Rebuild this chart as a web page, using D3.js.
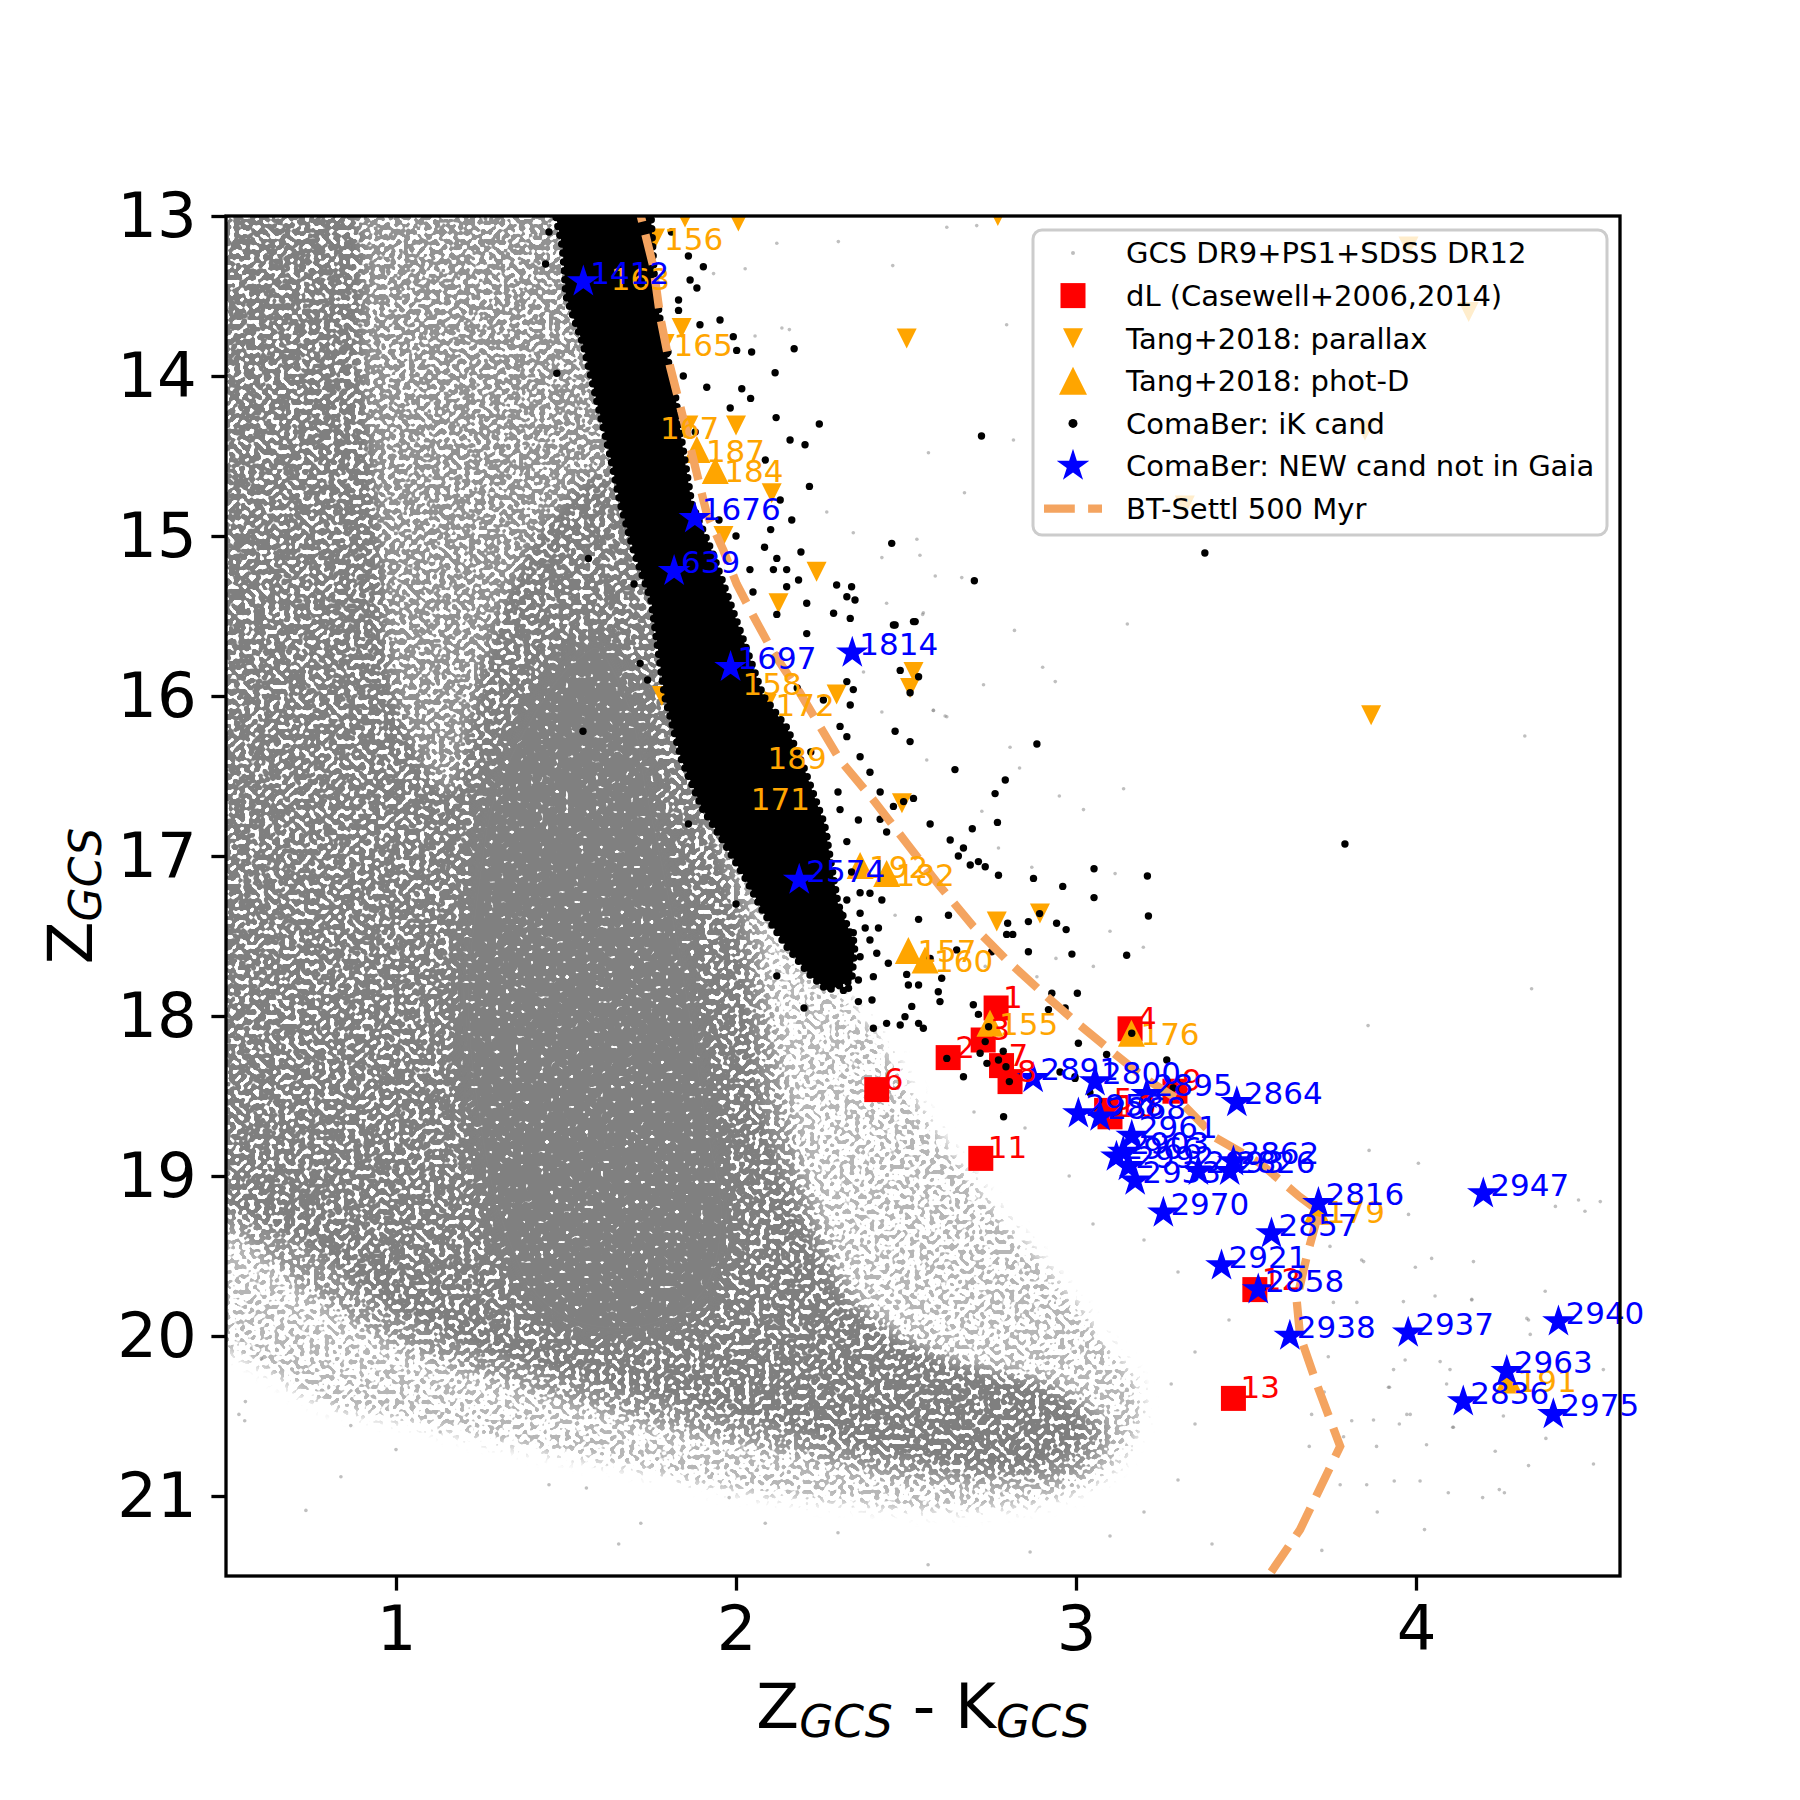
<!DOCTYPE html>
<html>
<head>
<meta charset="utf-8">
<script src="https://cdn.jsdelivr.net/npm/d3@7"></script>
<style>
  body { margin: 0; background: #fff; }
  text { font-family: "DejaVu Sans", sans-serif; }
</style>
</head>
<body>
<div class="chart"></div>
<script>

// ---- DATA (colour Z-K, magnitude Z) ----

// GCS field: density contours (light envelope -> dense core)
var fieldLight = [[0.4,12.9],[1.0,12.9],[1.6,12.9],[1.65,14.0],[1.75,15.0],[1.9,16.0],[1.97,16.5],[2.07,17.0],[2.17,17.4],[2.3,17.8],[2.45,18.2],[2.55,18.57],[2.73,19.1],[2.92,19.57],[3.08,20.0],[3.2,20.4],[3.13,20.8],[2.94,21.03],[2.6,21.1],[2.3,21.05],[2.0,20.98],[1.61,20.8],[1.35,20.7],[1.04,20.55],[0.8,20.45],[0.6,20.2],[0.4,19.9],[0.4,16.5]];
var fieldMid = [[0.4,12.9],[1.0,12.9],[1.53,12.9],[1.55,13.5],[1.62,14.15],[1.69,14.775],[1.78,15.4],[1.83,16.0],[1.9,16.5],[1.98,16.9],[2.05,17.3],[2.1,17.9],[2.16,18.62],[2.26,19.34],[2.38,19.82],[2.62,20.12],[2.97,20.33],[3.1,20.6],[3.0,20.87],[2.7,20.92],[2.45,20.87],[2.17,20.74],[1.70,20.52],[1.33,20.3],[1.0,20.05],[0.76,19.75],[0.55,19.4],[0.4,19.2],[0.4,15.8]];
var fieldDense = [[0.4,12.9],[0.85,12.9],[0.9,14.0],[0.95,15.0],[1.0,16.0],[1.15,16.6],[1.3,15.5],[1.45,14.9],[1.62,14.6],[1.72,15.2],[1.8,16.0],[1.88,16.6],[1.97,17.1],[2.03,17.7],[2.08,18.6],[2.2,19.3],[2.33,19.8],[2.6,20.15],[2.95,20.38],[3.03,20.6],[2.9,20.8],[2.5,20.76],[2.1,20.55],[1.7,20.35],[1.3,20.12],[1.0,19.85],[0.75,19.45],[0.4,18.95],[0.4,15.8]];
var fieldCore = [[1.6,15.6],[1.72,16.0],[1.78,16.6],[1.84,17.2],[1.9,17.9],[1.95,18.6],[2.0,19.3],[1.93,19.8],[1.75,20.02],[1.52,20.0],[1.38,19.8],[1.27,19.3],[1.2,18.6],[1.17,17.9],[1.2,17.2],[1.25,16.6],[1.36,16.1],[1.48,15.75]];

// GCS field: isolated points outside the cloud
var fieldSparse = [
  [2.12,13.17],[2.301,13.16],[2.62,13.07],[2.708,13.06],[2.461,13.31],[2.027,13.33],[1.934,13.36],[2.135,13.70],[2.157,13.71],[2.796,13.68],[2.056,13.75],[2.816,14.40],[2.566,14.48],[2.672,14.73],[2.267,14.85],[2.345,14.98],[2.532,15.02],[2.429,15.135],[2.541,15.12],[2.586,15.25],[2.664,15.26],[2.443,15.42],[2.551,15.48],[2.819,15.59],[2.728,15.93],[2.58,16.09],[2.429,16.10],[2.62,16.13],[2.375,15.85],
  [2.549,15.49],[3.151,15.55],[2.902,15.82],[2.939,15.91],[2.615,16.125],[2.581,16.09],[2.806,16.32],[3.14,16.58],[3.022,16.71],[2.951,16.625],[2.834,16.45],[2.561,16.40],[2.723,16.72],[2.772,16.95],[3.115,17.11],[2.87,17.07],[3.10,17.47],[3.051,17.69],[2.941,17.64],[3.198,17.57],[2.814,17.82],[2.885,17.755],[2.468,17.37],[2.733,17.69],
  [3.859,18.06],[3.862,18.84],[3.84,19.525],[4.32,16.25],[4.34,17.83],[4.41,19.19],[4.26,20.98],
  [4.007,18.92],[4.478,19.15],[4.542,19.16],[4.497,19.22],[3.978,19.24],[4.046,19.515],[4.169,19.535],[4.056,19.75],[4.164,19.77],[3.846,19.535],[3.998,19.57],[3.826,19.79],[4.38,19.72],[4.331,19.90],[4.336,19.99],[3.934,20.21],[3.919,20.32],[3.973,20.49],[3.875,20.525],[4.11,20.57],[3.787,20.63],[3.747,19.65],[3.747,19.44],
  [3.757,19.79],[3.963,19.785],[4.164,19.775],[4.326,19.89],[3.742,20.13],[3.968,20.15],[4.071,20.16],[4.1,20.21],[4.09,20.30],[3.922,20.32],[3.73,20.35],[4.257,20.50],[4.551,20.21],[3.983,20.49],[3.951,20.55],[4.108,20.57],[3.811,20.53],[3.693,20.49],[3.686,20.69],[3.884,20.69],[4.031,20.68],[4.233,20.72],[4.382,20.64],[4.331,20.81],[4.522,20.80],[3.777,20.93],[3.855,20.93],[3.936,20.906],[4.012,20.906],[4.095,20.98],[4.196,21.01],[4.245,20.96],[3.886,21.10],[4.025,21.21],[3.723,21.34],
  [0.735,21.09],[0.838,20.88],[1.0,20.71],[1.13,20.6],[1.45,20.93],[1.56,20.95],[1.655,21.3],[1.72,21.17],[1.98,21.01],[2.086,21.17],[2.30,21.23],[2.565,21.43],[2.865,21.35],[0.867,20.56],[0.557,20.41],[0.538,20.49],[0.604,20.14],[0.555,20.53],
  [3.28,20.3],[3.35,20.55],[3.3,20.9],[3.2,21.1],[3.4,21.3],[3.1,21.25],[3.45,19.9],[3.3,19.6],[3.2,19.4],[3.05,19.3],[3.35,20.1],[2.98,19.0],[2.85,18.7],[2.7,18.6]
];

// dL (Casewell+2006,2014)
var dlColor = [2.765, 2.624, 2.727, 3.159, 3.09, 2.414, 2.781, 2.806, 3.291, 3.10, 2.72, 3.526, 3.463];
var dlMag   = [17.95, 18.26, 18.15, 18.08, 18.59, 18.46, 18.31, 18.41, 18.47, 18.63, 18.89, 19.71, 20.39];
var dlName  = ['1','2','3','4','5','6','7','8','9','10','11','12','13'];

// Tang+2018: 'v' = parallax, '^' = phot-D
var tangColor = [1.762,1.605,1.85,2.007,2.77,2.502,1.84,1.79,1.75,1.86,2.0,1.885,1.939,2.105,1.963,2.237,2.125,1.782,2.522,2.512,1.993,2.09,2.296,2.066,2.017,2.488,2.365,2.443,2.767,2.894,2.507,2.556,2.747,3.163,3.708,4.272,3.868,3.978,4.155,3.85,3.32,1.60,1.69,1.718,1.777];
var tangMag   = [13.14,13.39,13.01,13.035,13.0,13.765,13.70,13.80,14.317,14.31,14.31,14.46,14.59,14.733,15.00,15.223,15.42,16.0,15.85,15.95,15.92,16.05,15.99,16.38,16.64,16.67,17.06,17.11,17.41,17.36,17.59,17.65,18.045,18.108,19.22,20.275,16.12,13.19,13.6,14.34,14.81,13.17,13.09,13.23,13.9];
var tangType  = ['v','v','v','v','v','v','v','v','v','v','v','^','^','v','v','v','v','v','v','v','^','v','v','^','^','v','^','^','v','v','^','^','^','^','^','^','v','v','v','v','v','v','v','v','v'];
var tangName  = ['156','163','','','','','','165','167','','','187','184','','','','','','','','158','172','','189','171','','192','182','','','157','160','155','176','179','191','','','','','','','','',''];

// ComaBer iK candidates: outline of the dense sequence + individual points
var ikBand = [[1.46,12.9],[1.49,13.2],[1.50,13.5],[1.55,13.8],[1.59,14.15],[1.63,14.5],[1.66,14.8],[1.70,15.1],[1.75,15.4],[1.77,15.7],[1.79,16.0],[1.84,16.4],[1.90,16.7],[1.96,16.9],[2.03,17.15],[2.08,17.35],[2.15,17.57],[2.22,17.75],[2.27,17.84],
  [2.34,17.78],[2.35,17.55],[2.30,17.3],[2.28,17.05],[2.26,16.8],[2.2,16.45],[2.15,16.2],[2.08,16.0],[2.03,15.7],[1.98,15.4],[1.93,15.1],[1.87,14.8],[1.84,14.4],[1.82,14.1],[1.78,13.7],[1.76,13.4],[1.75,13.0],[1.75,12.9]];
var ikPoints = [
  [1.904,13.317],[1.865,13.40],[1.885,13.45],[1.831,13.525],[1.831,13.59],[1.953,13.65],[1.894,13.68],[1.992,13.754],[2.002,13.84],[2.046,13.85],[2.171,13.83],[2.115,13.98],[1.845,14.00],[1.914,14.07],[2.017,14.08],[2.043,14.14],[1.983,14.20],[2.118,14.26],[2.245,14.30],[2.159,14.40],[2.203,14.43],[2.722,14.375],[2.216,14.69],[2.086,14.525],[2.130,14.775],[2.164,14.90],[2.102,14.96],[2.458,15.046],[2.701,15.28],[2.191,15.10],[2.120,15.14],[2.084,15.07],[2.041,15.21],[2.110,15.21],[2.149,15.21],[2.184,15.275],[2.149,15.317],[2.296,15.306],[2.340,15.317],[2.326,15.38],[2.350,15.40],[2.208,15.42],[2.287,15.483],[2.336,15.515],[2.468,15.556],[2.527,15.535],[2.120,15.49],[2.208,15.61],[2.483,15.84],[2.537,15.88],[2.326,15.91],[2.345,15.96],[2.257,16.025],[2.336,16.056],[1.566,15.14],[1.473,13.983],[1.718,15.796],[3.379,15.106],[3.791,16.925],[1.55,16.22],
  [2.463,15.556],[2.522,15.535],[2.512,15.98],[2.306,16.19],[2.326,16.254],[2.468,16.22],[2.512,16.285],[2.885,16.30],[2.644,16.46],[2.365,16.38],[2.394,16.477],[2.792,16.525],[2.762,16.61],[2.424,16.60],[2.522,16.64],[2.493,16.66],[2.463,16.69],[2.306,16.71],[2.360,16.775],[2.424,16.77],[2.443,16.85],[2.571,16.80],[2.769,16.79],[2.695,16.83],[2.630,16.90],[2.669,16.95],[2.654,17.00],[2.689,17.056],[2.713,17.035],[2.733,17.067],[2.772,17.12],[2.875,17.14],[2.961,17.19],[3.053,17.08],[3.210,17.125],[3.053,17.26],[3.213,17.375],[2.860,17.41],[2.943,17.42],[2.971,17.46],[2.893,17.36],[2.799,17.42],[2.796,17.49],[2.814,17.49],[2.625,17.37],[2.537,17.396],[2.429,17.275],[2.394,17.233],[2.365,17.358],[2.419,17.45],[2.394,17.525],[2.414,17.608],[2.365,17.63],[2.306,17.69],[2.360,17.775],[2.404,17.754],[2.448,17.67],[2.502,17.74],[2.507,17.806],[2.537,17.806],[2.605,17.764],[2.571,17.64],[2.649,17.587],[2.752,17.598],[2.860,17.598],[2.988,17.613],[3.149,17.62],[3.004,17.858],[2.919,17.96],[2.968,17.95],[2.595,17.848],[2.600,17.91],[2.517,17.94],[2.497,18.004],[2.537,18.046],[2.551,18.077],[2.483,18.056],[2.443,18.046],[2.404,18.077],[2.360,17.91],[2.331,17.827],[2.698,17.93],[2.713,17.99],[2.743,18.067],[2.733,18.16],[2.718,18.233],[2.738,18.296],[2.772,18.275],[2.794,18.317],[2.620,18.265],[2.669,18.38],[2.804,18.41],[3.007,18.17],[2.929,17.858],[2.997,18.38],
  [2.786,18.22],[2.953,18.35],[2.997,18.39],[3.041,18.48],[3.09,18.24],[3.267,18.275],[3.286,18.45],[2.787,18.63],[3.164,18.108],
  [2.252,16.827],[2.267,16.88],[2.326,16.91],[2.306,17.358],[2.282,17.48],[2.345,17.48],[2.228,17.72],[2.267,17.75],[2.316,17.84],[2.365,17.23],[2.326,17.275],
  [1.81,13.1],[1.86,13.25],[1.80,13.85],[1.88,14.35],[1.95,14.9],[2.0,15.0],[2.05,15.35],[2.12,15.75],[2.18,15.95],[2.22,16.35],[2.3,16.6],[2.34,17.1],[2.38,17.45],[2.4,17.9],[1.45,13.1],[1.44,13.3],[1.70,15.3],[1.74,15.9],[1.86,16.8],[2.0,17.3],[2.12,17.75],[2.2,17.95]
];

// ComaBer: new candidates not in Gaia
var newColor = [1.551,1.879,1.818,1.984,2.342,2.186,2.874,3.056,3.208,3.473,3.007,3.071,3.164,3.119,3.139,3.154,3.174,3.36,3.452,3.463,3.257,3.713,3.575,3.428,3.536,3.629,3.977,4.198,4.419,4.267,4.139,4.404];
var newMag   = [13.41,14.89,15.22,15.82,15.73,17.15,18.39,18.41,18.49,18.54,18.61,18.63,18.75,18.88,18.85,18.94,19.03,18.97,18.97,18.91,19.23,19.17,19.36,19.56,19.71,20.00,19.98,19.11,19.91,20.22,20.41,20.49];
var newName  = ['1412','1676','639','1697','1814','2574','2891','2800','2895','2864','2958','2868','2961','2966','2903','2992','2933','2993','2826','2862','2970','2816','2857','2921','2858','2938','2937','2947','2940','2963','2836','2975'];

// BT-Settl 500 Myr isochrone
var settlColor = [1.70,1.72,1.757,1.777,1.806,1.836,1.875,1.914,1.963,2.002,2.051,2.11,2.188,2.306,2.404,2.502,2.60,2.698,2.796,2.894,2.993,3.11,3.21,3.30,3.41,3.541,3.658,3.715,3.679,3.649,3.659,3.708,3.777,3.659,3.55];
var settlMag   = [12.85,13.0,13.317,13.63,13.94,14.19,14.525,14.86,15.09,15.3,15.5,15.73,15.98,16.40,16.65,16.92,17.19,17.44,17.65,17.84,18.025,18.23,18.40,18.52,18.76,18.92,19.13,19.22,19.50,19.775,20.0,20.30,20.69,21.21,21.55];

var xTicks = [1, 2, 3, 4];
var yTicks = [13, 14, 15, 16, 17, 18, 19, 20, 21];
var legendLabels = ['GCS DR9+PS1+SDSS DR12', 'dL (Casewell+2006,2014)', 'Tang+2018: parallax', 'Tang+2018: phot-D', 'ComaBer: iK cand', 'ComaBer: NEW cand not in Gaia', 'BT-Settl 500 Myr'];

// ---- LAYOUT ----
var width = 1800, height = 1800;
var plotL = 226, plotR = 1620, plotT = 216, plotB = 1576;

var svg = d3.select('.chart')
  .append('svg')
  .attr('width', width)
  .attr('height', height);

var xScale = d3.scaleLinear().domain([0.5, 4.6]).range([plotL, plotR]);
var yScale = d3.scaleLinear().domain([13, 21.5]).range([plotT, plotB]);

var defs = svg.append('defs');
defs.append('clipPath').attr('id', 'plotClip')
  .append('rect')
  .attr('x', plotL).attr('y', plotT)
  .attr('width', plotR - plotL).attr('height', plotB - plotT);

// dotted rendering of the field density: density (alpha) + noise, thresholded,
// so higher density -> more pixels covered, like an overplotted scatter
var dots = defs.append('filter').attr('id', 'dots')
  .attr('filterUnits', 'userSpaceOnUse')
  .attr('x', plotL).attr('y', plotT).attr('width', plotR - plotL).attr('height', plotB - plotT)
  .attr('color-interpolation-filters', 'sRGB');
dots.append('feGaussianBlur').attr('in', 'SourceGraphic').attr('stdDeviation', 7).attr('result', 'blur');
dots.append('feTurbulence').attr('type', 'fractalNoise').attr('baseFrequency', 0.2)
  .attr('numOctaves', 1).attr('seed', 11).attr('result', 'noise');
dots.append('feColorMatrix').attr('in', 'noise').attr('type', 'matrix')
  .attr('values', '0 0 0 0 0  0 0 0 0 0  0 0 0 0 0  1 0 0 0 0').attr('result', 'nA');
dots.append('feColorMatrix').attr('in', 'blur').attr('type', 'matrix')
  .attr('values', '0 0 0 0 0  0 0 0 0 0  0 0 0 0 0  0 0 0 1 0').attr('result', 'bA');
dots.append('feComposite').attr('in', 'bA').attr('in2', 'nA').attr('operator', 'arithmetic')
  .attr('k1', 0).attr('k2', 0.4).attr('k3', 1).attr('k4', -0.163).attr('result', 'sum');
var thr = dots.append('feComponentTransfer').attr('in', 'sum').attr('result', 'mask');
thr.append('feFuncA').attr('type', 'linear').attr('slope', 20).attr('intercept', -10);
var dk = dots.append('feComponentTransfer').attr('in', 'blur').attr('result', 'dark');
dk.append('feFuncA').attr('type', 'linear').attr('slope', 1.6).attr('intercept', 0);
dots.append('feComposite').attr('in', 'dark').attr('in2', 'mask').attr('operator', 'in');

var area = d3.line()
  .x(function(d) { return xScale(d[0]); })
  .y(function(d) { return yScale(d[1]); })
  .curve(d3.curveCatmullRomClosed);
var poly = d3.line()
  .x(function(d) { return xScale(d[0]); })
  .y(function(d) { return yScale(d[1]); })
  .curve(d3.curveLinearClosed);

//marker shapes (matplotlib-like)
function triUp(h) { return 'M0,' + (-h) + 'L' + h + ',' + h + 'L' + (-h) + ',' + h + 'Z'; }
function triDown(h) { return 'M0,' + h + 'L' + h + ',' + (-h) + 'L' + (-h) + ',' + (-h) + 'Z'; }
var starPath = d3.symbol().type(d3.symbolStar).size(330)();

var plot = svg.append('g').attr('clip-path', 'url(#plotClip)');

//FIELD CLOUD (density levels, stacked)
var cloud = plot.append('g').attr('filter', 'url(#dots)');
cloud.append('path').attr('d', area(fieldLight)).attr('fill', '#808080').attr('fill-opacity', 0.36);
cloud.append('path').attr('d', area(fieldMid)).attr('fill', '#808080').attr('fill-opacity', 0.28);
cloud.append('path').attr('d', area(fieldDense)).attr('fill', '#808080').attr('fill-opacity', 0.22);
cloud.append('path').attr('d', area(fieldCore)).attr('fill', '#808080').attr('fill-opacity', 1);

plot.selectAll('.fieldPt')
  .data(fieldSparse)
  .enter()
  .append('circle')
  .attr('class', 'fieldPt')
  .attr('cx', function(d) { return xScale(d[0]); })
  .attr('cy', function(d) { return yScale(d[1]); })
  .attr('r', 1.8)
  .style('fill', '#808080')
  .style('opacity', 0.5);

//dL SQUARES
var dl = dlName.map(function(n, i) { return {x: dlColor[i], y: dlMag[i], name: n}; });
plot.selectAll('.dl')
  .data(dl)
  .enter()
  .append('rect')
  .attr('class', 'dl')
  .attr('x', function(d) { return xScale(d.x) - 12.5; })
  .attr('y', function(d) { return yScale(d.y) - 12.5; })
  .attr('width', 25)
  .attr('height', 25)
  .style('fill', '#ff0000');

//TANG TRIANGLES
var tang = tangName.map(function(n, i) { return {x: tangColor[i], y: tangMag[i], t: tangType[i], name: n}; });
plot.selectAll('.tang')
  .data(tang)
  .enter()
  .append('path')
  .attr('class', 'tang')
  .attr('transform', function(d) { return 'translate(' + xScale(d.x) + ',' + yScale(d.y) + ')'; })
  .attr('d', function(d) { return d.t === '^' ? triUp(13.5) : triDown(10); })
  .style('fill', '#ffa500');

//iK CANDIDATES: dense sequence with a beaded (dotted) edge, then single points
plot.append('path').attr('d', poly(ikBand)).attr('fill', '#000');
plot.append('path').attr('d', poly(ikBand))
  .attr('fill', 'none').attr('stroke', '#000').attr('stroke-width', 7.5)
  .attr('stroke-linecap', 'round').attr('stroke-dasharray', '0,9');
plot.selectAll('.ik')
  .data(ikPoints)
  .enter()
  .append('circle')
  .attr('class', 'ik')
  .attr('cx', function(d) { return xScale(d[0]); })
  .attr('cy', function(d) { return yScale(d[1]); })
  .attr('r', 3.7)
  .style('fill', '#000');

//BT-SETTL
var settl = settlColor.map(function(c, i) { return [c, settlMag[i]]; });
plot.append('path')
  .attr('d', d3.line().x(function(d) { return xScale(d[0]); }).y(function(d) { return yScale(d[1]); })(settl))
  .attr('fill', 'none')
  .attr('stroke', '#f4a460')
  .attr('stroke-width', 8.3)
  .attr('stroke-dasharray', '30.8,13.3');

//NEW CANDIDATES
var stars = newName.map(function(n, i) { return {x: newColor[i], y: newMag[i], name: n}; });
plot.selectAll('.star')
  .data(stars)
  .enter()
  .append('path')
  .attr('class', 'star')
  .attr('transform', function(d) { return 'translate(' + xScale(d.x) + ',' + yScale(d.y) + ')'; })
  .attr('d', starPath)
  .style('fill', '#0000ff');

//LABELS (not clipped)
var labels = svg.append('g').style('font-size', '31px');
labels.selectAll('.tangLbl')
  .data(tang.filter(function(d) { return d.name !== ''; }))
  .enter()
  .append('text')
  .attr('x', function(d) { return xScale(d.x) + 9; })
  .attr('y', function(d) { return yScale(d.y) + 12; })
  .style('fill', '#ffa500')
  .text(function(d) { return d.name; });
labels.selectAll('.dlLbl')
  .data(dl)
  .enter()
  .append('text')
  .attr('x', function(d) { return xScale(d.x) + 7; })
  .attr('y', function(d) { return yScale(d.y); })
  .style('fill', '#ff0000')
  .text(function(d) { return d.name; });
labels.selectAll('.starLbl')
  .data(stars)
  .enter()
  .append('text')
  .attr('x', function(d) { return xScale(d.x) + 7; })
  .attr('y', function(d) { return yScale(d.y) + 2; })
  .style('fill', '#0000ff')
  .text(function(d) { return d.name; });

//AXES
var xAxis = d3.axisBottom(xScale).tickValues(xTicks).tickFormat(d3.format('d'))
  .tickSize(14.6).tickSizeOuter(0).tickPadding(14.6);
var yAxis = d3.axisLeft(yScale).tickValues(yTicks).tickFormat(d3.format('d'))
  .tickSize(14.6).tickSizeOuter(0).tickPadding(14.6);

var xAxisG = svg.append('g').attr('transform', 'translate(0,' + plotB + ')').call(xAxis);
var yAxisG = svg.append('g').attr('transform', 'translate(' + plotL + ',0)').call(yAxis);
[xAxisG, yAxisG].forEach(function(g) {
  g.select('.domain').remove();
  g.selectAll('line').attr('stroke', '#000').attr('stroke-width', 3.3);
  g.selectAll('text').style('font-size', '62.5px').style('font-family', 'DejaVu Sans').attr('fill', '#000');
});

svg.append('rect')
  .attr('x', plotL).attr('y', plotT)
  .attr('width', plotR - plotL).attr('height', plotB - plotT)
  .attr('fill', 'none').attr('stroke', '#000').attr('stroke-width', 3.3);

//AXIS LABELS
var xl = svg.append('text')
  .attr('x', (plotL + plotR) / 2).attr('y', 1728)
  .attr('text-anchor', 'middle').style('font-size', '62.5px');
xl.append('tspan').text('Z');
xl.append('tspan').attr('dy', 9).style('font-size', '44px').style('font-style', 'italic').text('GCS');
xl.append('tspan').attr('dy', -9).text(' - K');
xl.append('tspan').attr('dy', 9).style('font-size', '44px').style('font-style', 'italic').text('GCS');

var yl = svg.append('text')
  .attr('transform', 'translate(92,' + ((plotT + plotB) / 2) + ') rotate(-90)')
  .attr('text-anchor', 'middle').style('font-size', '62.5px');
yl.append('tspan').text('Z');
yl.append('tspan').attr('dy', 9).style('font-size', '44px').style('font-style', 'italic').text('GCS');

//LEGEND
var lg = svg.append('g');
lg.append('rect')
  .attr('x', 1033).attr('y', 230).attr('width', 574).attr('height', 305).attr('rx', 9)
  .attr('fill', '#fff').attr('fill-opacity', 0.8)
  .attr('stroke', '#cccccc').attr('stroke-width', 3);

var rowY = function(i) { return 253 + i * 42.6; };
var mx = 1073;
lg.append('circle').attr('cx', mx).attr('cy', rowY(0)).attr('r', 2).style('fill', '#bdbdbd');
lg.append('rect').attr('x', mx - 12.5).attr('y', rowY(1) - 12.5).attr('width', 25).attr('height', 25).style('fill', '#ff0000');
lg.append('path').attr('transform', 'translate(' + mx + ',' + rowY(2) + ')').attr('d', triDown(10)).style('fill', '#ffa500');
lg.append('path').attr('transform', 'translate(' + mx + ',' + rowY(3) + ')').attr('d', triUp(14)).style('fill', '#ffa500');
lg.append('circle').attr('cx', mx).attr('cy', rowY(4)).attr('r', 4.5).style('fill', '#000');
lg.append('path').attr('transform', 'translate(' + mx + ',' + rowY(5) + ')').attr('d', starPath).style('fill', '#0000ff');
lg.append('line').attr('x1', 1044).attr('x2', 1102).attr('y1', rowY(6)).attr('y2', rowY(6))
  .attr('stroke', '#f4a460').attr('stroke-width', 8.3).attr('stroke-dasharray', '30.8,13.3');

lg.selectAll('.lgText')
  .data(legendLabels)
  .enter()
  .append('text')
  .attr('x', 1126)
  .attr('y', function(d, i) { return rowY(i); })
  .attr('dy', '0.36em')
  .style('font-size', '29px')
  .style('fill', '#000')
  .text(function(d) { return d; });

</script>
</body>
</html>
